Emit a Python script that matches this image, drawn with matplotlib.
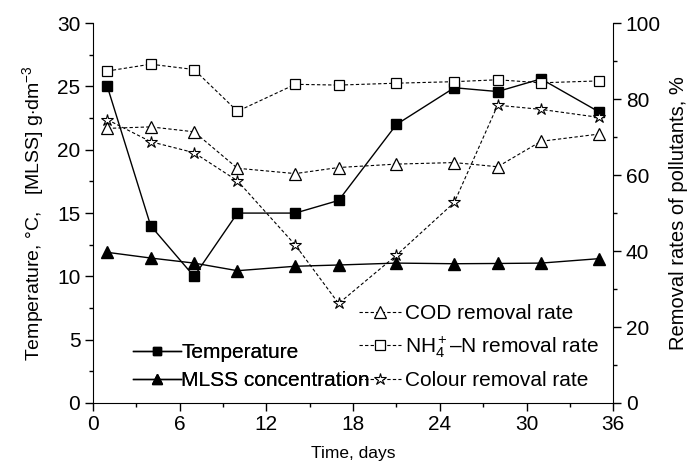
import numpy as np
import matplotlib.pyplot as plt
from matplotlib.ticker import MultipleLocator

plt.rcParams['font.family'] = ['Liberation Sans', 'DejaVu Sans']
plt.rcParams['mathtext.fontset'] = 'custom'
plt.rcParams['mathtext.rm'] = 'Liberation Sans'
plt.rcParams['mathtext.it'] = 'Liberation Sans:italic'

days = [1, 4, 7, 10, 14, 17, 21, 25, 28, 31, 35]
temperature = [25, 14, 10, 15, 15, 16, 22, 24.9, 24.6, 25.6, 23]
mlss = [11.9, 11.45, 11.05, 10.45, 10.8, 10.9, 11.05, 11.0, 11.02, 11.05, 11.4]
cod = [72.3, 72.7, 71.4, 61.8, 60.4, 62.0, 62.9, 63.3, 62.2, 68.9, 70.8]
nh4 = [87.4, 89.2, 87.8, 76.8, 83.9, 83.7, 84.2, 84.6, 85.1, 84.3, 84.8]
colour = [74.6, 68.8, 65.9, 58.5, 41.6, 26.2, 38.9, 52.8, 78.4, 77.3, 75.2]

fig = plt.figure(figsize=(6.93, 4.73), dpi=100)
ax = fig.add_axes([0.134, 0.148, 0.751, 0.803])
ax2 = ax.twinx()

l1, = ax.plot(days, temperature, '-', color='black', lw=1, marker='s', ms=6.5,
              mfc='black', label='Temperature')
l2, = ax.plot(days, mlss, '-', color='black', lw=1, marker='^', ms=8,
              mfc='black', label='MLSS concentration')
ds = (0, (3, 2))
l3, = ax2.plot(days, cod, ls=ds, color='black', lw=0.8, marker='^', ms=8,
               mfc='white', mew=0.9, label='COD removal rate')
l4, = ax2.plot(days, nh4, ls=ds, color='black', lw=0.8, marker='s', ms=7,
               mfc='white', mew=0.9, label=r'NH$_4^+$–N removal rate')
l5, = ax2.plot(days, colour, ls=ds, color='black', lw=0.8, marker='*', ms=9,
               mfc='white', mew=0.8, label='Colour removal rate')

ax.set_xlim(0, 36)
ax.set_ylim(0, 30)
ax2.set_ylim(0, 100)
ax.xaxis.set_major_locator(MultipleLocator(6))
ax.xaxis.set_minor_locator(MultipleLocator(3))
ax.yaxis.set_major_locator(MultipleLocator(5))
ax.yaxis.set_minor_locator(MultipleLocator(2.5))
ax2.yaxis.set_major_locator(MultipleLocator(20))
ax2.yaxis.set_minor_locator(MultipleLocator(10))

for a in (ax, ax2):
    a.spines['top'].set_visible(False)
    a.tick_params(which='major', length=6, width=1, labelsize=15, direction='out', pad=3)
    a.tick_params(which='minor', length=3, width=1, direction='out')
ax.spines['right'].set_visible(False)
ax2.spines['left'].set_visible(False)
ax2.spines['bottom'].set_visible(False)

ax.set_xlabel('Time, days', fontsize=12.5, labelpad=8)
ax.set_ylabel(r'Temperature, °C,   [MLSS] g$\cdot$dm$^{-3}$', fontsize=14, labelpad=8)
ax2.set_ylabel('Removal rates of pollutants, %', fontsize=14.5, labelpad=6)

leg1 = ax.legend(handles=[l1, l2], loc='lower left', bbox_to_anchor=(0.05, -0.005),
                 frameon=False, fontsize=15, handlelength=2.3, handletextpad=0.0,
                 labelspacing=0.45, borderpad=0.2, markerscale=0.85)
ax.add_artist(leg1)
ax2.legend(handles=[l3, l4, l5], loc='lower right', bbox_to_anchor=(1.0, -0.005),
           frameon=False, fontsize=15, handlelength=2.0, handletextpad=0.2,
           labelspacing=0.55, borderpad=0.2)

fig.savefig('out.png', dpi=100)
